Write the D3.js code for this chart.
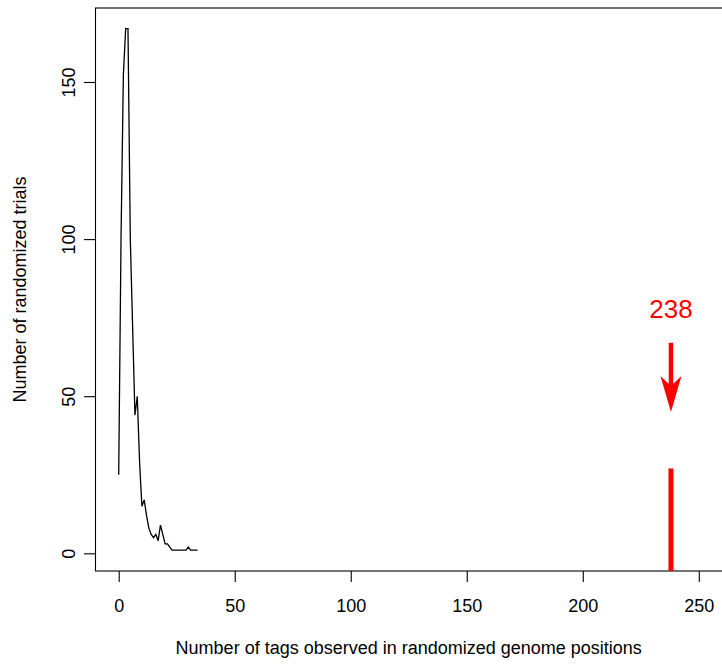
<!DOCTYPE html>
<html>
<head>
<meta charset="utf-8">
<script src="https://cdn.jsdelivr.net/npm/d3@7"></script>
<style>
  html, body { margin: 0; padding: 0; background: #fff; }
  svg { display: block; }
  text { font-family: "Liberation Sans", Arial, sans-serif; }
</style>
</head>
<body>
<svg id="chart" width="722" height="667"></svg>
<script>
// ---- data ----
const tagCounts = [0,1,2,3,4,5,6,7,8,9,10,11,12,13,14,15,16,17,18,19,20,21,22,23,24,25,26,27,28,29,30,31,32,33,34];
const trialCounts = [25,100,152,167,167,100,72,44,50,29,15,17,12,8,6,5,6,4,9,6,3,3,2,1,1,1,1,1,1,1,2,1,1,1,1];
const observedValue = 238;
const observedBarHeight = 27;
const arrowTop = 67;
const arrowTip = 45;
const xTicks = [0, 50, 100, 150, 200, 250];
const yTicks = [0, 50, 100, 150];
const xTitle = "Number of tags observed in randomized genome positions";
const yTitle = "Number of randomized trials";

// ---- layout ----
const svg = d3.select("#chart");
const plot = { left: 95.5, right: 722, top: 8, bottom: 571 };

const x = d3.scaleLinear().domain([-10, 260]).range([plot.left, plot.right]);
const y = d3.scaleLinear().domain([-5.63, 173.55]).range([plot.bottom, plot.top]);

// box
svg.append("rect")
  .attr("x", plot.left).attr("y", plot.top)
  .attr("width", plot.right - plot.left + 20).attr("height", plot.bottom - plot.top)
  .attr("fill", "none").attr("stroke", "#000").attr("stroke-width", 1.1);

// x axis
const xAxis = d3.axisBottom(x).tickValues(xTicks).tickSize(11).tickPadding(0).tickFormat(d3.format("d"));
const gx = svg.append("g").attr("transform", `translate(0,${plot.bottom})`).call(xAxis);
gx.select(".domain").remove();
gx.selectAll(".tick line").attr("stroke", "#000").attr("stroke-width", 1.1);
gx.selectAll(".tick text")
  .attr("y", 41).attr("dy", null)
  .attr("font-size", 18).attr("fill", "#000")
  .style("font-family", '"Liberation Sans", Arial, sans-serif');

// y axis
const yAxis = d3.axisLeft(y).tickValues(yTicks).tickSize(11.5).tickFormat(d3.format("d"));
const gy = svg.append("g").attr("transform", `translate(${plot.left},0)`).call(yAxis);
gy.select(".domain").remove();
gy.selectAll(".tick line").attr("stroke", "#000").attr("stroke-width", 1.1);
gy.selectAll(".tick text")
  .attr("x", null).attr("dy", null)
  .attr("text-anchor", "middle")
  .attr("transform", "translate(-21,0) rotate(-90)")
  .attr("font-size", 18).attr("fill", "#000")
  .style("font-family", '"Liberation Sans", Arial, sans-serif');

// titles
svg.append("text")
  .attr("x", (plot.left + plot.right) / 2).attr("y", 654)
  .attr("text-anchor", "middle").attr("font-size", 18).attr("fill", "#000")
  .text(xTitle);
svg.append("text")
  .attr("transform", `translate(26,${(plot.top + plot.bottom) / 2}) rotate(-90)`)
  .attr("text-anchor", "middle").attr("font-size", 18).attr("fill", "#000")
  .text(yTitle);

// line
const pts = tagCounts.map((t, i) => [t, trialCounts[i]]);
svg.append("path")
  .datum(pts)
  .attr("fill", "none").attr("stroke", "#000").attr("stroke-width", 1.3)
  .attr("stroke-linejoin", "miter")
  .attr("d", d3.line().x(d => x(d[0])).y(d => y(d[1])));

// observed red bar
svg.append("line")
  .attr("x1", x(observedValue)).attr("x2", x(observedValue))
  .attr("y1", y.range()[0]).attr("y2", y(observedBarHeight))
  .attr("stroke", "#ff0000").attr("stroke-width", 5);

// arrow
const ax = x(observedValue);
const tipY = y(arrowTip);
svg.append("line")
  .attr("x1", ax).attr("x2", ax)
  .attr("y1", y(arrowTop)).attr("y2", tipY - 20)
  .attr("stroke", "#ff0000").attr("stroke-width", 4.5);
svg.append("path")
  .attr("d", `M${ax},${tipY} L${ax - 10.5},${tipY - 36} L${ax},${tipY - 26} L${ax + 10.5},${tipY - 36} Z`)
  .attr("fill", "#ff0000");

// label
svg.append("text")
  .attr("x", ax).attr("y", 318)
  .attr("text-anchor", "middle").attr("font-size", 26).attr("fill", "#ff0000")
  .text(String(observedValue));
</script>
</body>
</html>
